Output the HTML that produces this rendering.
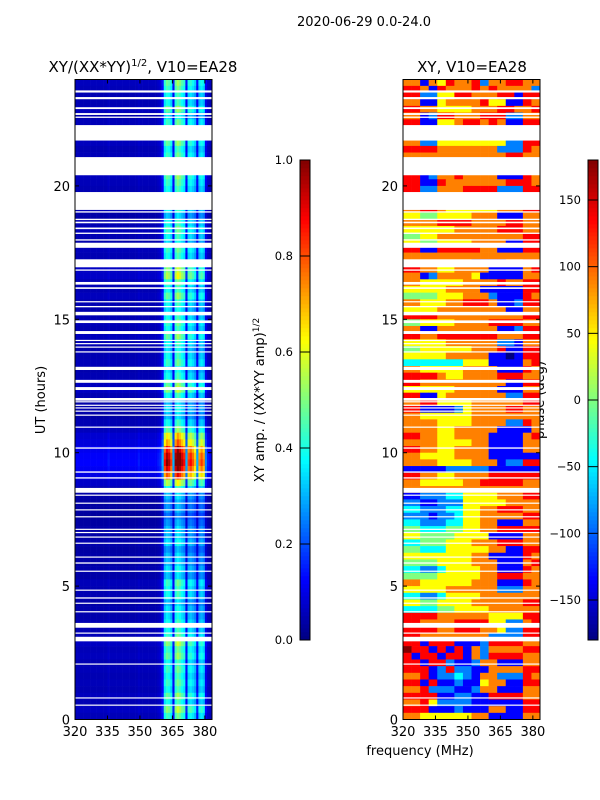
<!DOCTYPE html>
<html><head><meta charset="utf-8">
<style>
body{margin:0;background:#fff;}
svg{display:block;font-family:"DejaVu Sans","Liberation Sans",sans-serif;}
</style></head>
<body>
<svg id="fig" width="600" height="800" viewBox="0 0 600 800">
<text x="364" y="26" font-size="13" text-anchor="middle">2020-06-29 0.0-24.0</text>
<text x="143" y="72" font-size="15" text-anchor="middle">XY/(XX*YY)<tspan font-size="10" dy="-6">1/2</tspan><tspan dy="6">, V10=EA28</tspan></text>
<text x="472" y="72" font-size="15" text-anchor="middle">XY, V10=EA28</text>
<text transform="translate(45,400) rotate(-90)" font-size="13" text-anchor="middle">UT (hours)</text>
<text x="420" y="755" font-size="13" text-anchor="middle">frequency (MHz)</text>
<text transform="translate(264,400) rotate(-90)" font-size="13" text-anchor="middle">XY amp. / (XX*YY amp)<tspan font-size="9" dy="-5">1/2</tspan></text>
<text transform="translate(544,400) rotate(-90)" font-size="13" text-anchor="middle">phase (deg)</text>
<g id="left"></g>
<g id="right"></g>
<g id="cb"></g>
<g id="axes"></g>
</svg>
<script>
// ---- data ----
const freqProfile=[0.05,0.05,0.05,0.05,0.05,0.05,0.05,0.05,0.05,0.05,0.05,0.05,0.05,0.05,0.05,0.06,0.05,0.05,0.05,0.05,0.05,0.05,0.05,0.05,0.05,0.05,0.05,0.05,0.05,0.06,0.05,0.05,0.05,0.05,0.05,0.05,0.05,0.05,0.06,0.07,
0.12,0.35,0.4,0.38,0.33,0.12,0.4,0.45,0.42,0.38,0.35,0.12,0.33,0.35,0.32,0.28,0.12,0.3,0.33,0.3,0.1,0.06,0.05,0.05];
const rowGain=[1.2,1.1,1.0,1.0,1.2,0.9,1.1,1.0,1.0,1.2,1.0,1.1,1.0,1.0,1.2,1.1,1.0,1.0,1.0,1.0,0.8,1.0,1.1,1.0,
0.9,1.1,1.0,1.0,1.3,1.4,1.1,1.0,1.2,1.0,0.9,1.0,1.1,1.0,1.2,1.0,0.9,1.0,1.1,0.9,1.0,1.2,1.3,1.0,
0.8,0.9,0.8,1.0,1.2,1.6,1.8,2.2,2.4,2.5,2.3,2.0,1.4,1.0,0.8,0.7,0.7,0.6,0.7,0.8,0.8,0.9,0.7,0.8,
0.8,0.9,0.8,1.1,1.0,1.0,0.8,0.9,0.9,1.0,1.0,1.1,1.3,1.1,1.2,1.0,1.1,1.0,1.1,1.0,1.2,1.0,1.3,1.1];
const phaseRows=["6616576672667766","7761766676766662","7722557766677177","6611566667551176","7766555566677667","6612776667772266","7711556776761177","6666666666666666","6666666666666666","6622555555552277","7777666666622276","6666666666667766","6666666666666666","6666666666666666","7712667666611176","7711766666667776","7722666777722277","6666666666666666","6666666666666666","6677655555566677","5544555566611166","6666777766667766","5555556666677766","4455666666666677","5544555566661177","7711777776611177","6666666666666666","6666666611116677","7766556666111167","6612666651111166","6655555666676677","5555566661111177","4444555666211176","6655566777611277","5555666666661166","7777666666666677","4455556666777766","6611666666611277","7766777777766677","5555566666622166","4455555566671177","5555566666110177","3333333555111167","6655555666611176","7777655666677766","7766666666661177","5555556666611166","7711566666662277","6677555566666677","7711112566667766","6655555566666666","6666555566662276","6666556666611116","7766556666111167","6666555566111166","7766556666111166","6655556666111111","6666555566612277","1111122222111111","7766556666777777","6655555667777766","6666666666666666","1122233555566677","2211222555556666","3322233556677766","2221223556666677","3322233556611166","4433344556677777","5544445555111166","3344455566677766","4433355555661177","5555555566111176","4444555566611167","3322355556611176","4444555556677766","6655555566611176","5555566666622266","3322355556666666","5544555566666677","3333445555666666","7777666666555577","7766667777552267","7777667776652277","7766666666222277","7717771112777766","8771717162666677","7177177162777766","7717721126611166","7771272211666677","6671223216622276","7717112115661177","6672221126611166","7777112211777766","6675222211111177","7771112111661177","6655555566111166"];
const gaps=[[23.5,23.58],[23.25,23.33],[22.88,22.95],[22.66,22.73],[22.55,22.6],[21.7,22.28],[20.4,21.08],[19.1,19.77],[19.0,19.05],[18.72,18.77],[18.6,18.66],[18.38,18.44],[18.2,18.25],[17.95,18.0],[17.68,17.87],[16.95,17.25],[16.82,16.87],[16.3,16.4],[16.14,16.2],[15.64,15.68],[15.45,15.5],[15.15,15.28],[14.86,14.96],[14.45,14.56],[14.2,14.23],[14.07,14.11],[13.95,13.98],[13.76,13.8],[13.1,13.22],[12.62,12.73],[12.35,12.46],[11.95,12.05],[11.9,11.93],[11.78,11.8],[11.67,11.7],[11.55,11.58],[11.4,11.43],[10.94,10.98],[10.15,10.2],[9.25,9.3],[9.03,9.08],[8.5,8.68],[8.4,8.43],[8.1,8.13],[7.85,7.88],[7.58,7.62],[7.12,7.15],[7.0,7.03],[6.82,6.86],[6.6,6.63],[6.08,6.11],[5.84,5.89],[5.55,5.58],[4.84,4.87],[4.53,4.58],[4.35,4.38],[4.02,4.06],[3.44,3.62],[3.22,3.26],[2.93,3.1],[2.06,2.1],[0.79,0.83],[0.52,0.56]];
const yTicks=[0,5,10,15,20];
const xTicks=[320,335,350,365,380];
const ampTicks=["0.0","0.2","0.4","0.6","0.8","1.0"];
const phaseTicks=[-150,-100,-50,0,50,100,150];
// ---- scales ----
const NS="http://www.w3.org/2000/svg";
const yS=h=>719.5-h*(640.3/24);
const xL=f=>75+(f-320)*(137/63.3);
const xR=f=>403+(f-320)*(137/63.3);
function jet(v){v=Math.max(0,Math.min(1,v));
 const r=Math.max(0,Math.min(1,1.5-Math.abs(4*v-3))),g=Math.max(0,Math.min(1,1.5-Math.abs(4*v-2))),b=Math.max(0,Math.min(1,1.5-Math.abs(4*v-1)));
 return `rgb(${Math.round(r*255)},${Math.round(g*255)},${Math.round(b*255)})`;}
function mk(parent,tag,attrs){const e=document.createElementNS(NS,tag);for(const k in attrs)e.setAttribute(k,attrs[k]);parent.appendChild(e);return e;}
const L=document.getElementById('left'),R=document.getElementById('right'),CB=document.getElementById('cb'),AX=document.getElementById('axes');
const nRows=rowGain.length,dh=24/nRows;
// amplitude heatmap
for(let r=0;r<nRows;r++){const hTop=24-r*dh,hBot=hTop-dh;
 for(let f=0;f<freqProfile.length;f++){
  const x0=xL(320+f),x1=Math.min(xL(321+f),212);if(x1<=x0)continue;
  const c=mk(L,'rect',{x:x0,y:yS(hTop),width:x1-x0+0.3,height:yS(hBot)-yS(hTop)+0.3,fill:jet(freqProfile[f]*rowGain[r])});
  
  
 }}
// phase heatmap
for(let r=0;r<phaseRows.length;r++){const hTop=24-r*dh,hBot=hTop-dh,s=phaseRows[r],fw=63.3/s.length;
 for(let k=0;k<s.length;k++){
  const ph=-180+(+s[k])*45;
  const x0=xR(320+k*fw),x1=xR(320+(k+1)*fw);
  const c=mk(R,'rect',{x:x0,y:yS(hTop),width:x1-x0+0.3,height:yS(hBot)-yS(hTop)+0.3,fill:jet((ph+180)/360)});
  
  
 }}
// missing-data gaps
for(const g of gaps){for(const [x0,p] of [[75,L],[403,R]]){
 const e=mk(p,'rect',{x:x0,y:yS(g[1]),width:137,height:Math.max(1.2,yS(g[0])-yS(g[1])),fill:'#fff'});
 
 
}}
// axes frames and ticks
for(const [x0,xs,nm] of [[75,xL,'left'],[403,xR,'right']]){
 const fr=mk(AX,'rect',{x:x0,y:79.5,width:137,height:640,fill:'none',stroke:'#000','stroke-width':1});
 
 
 for(const t of yTicks){const y=yS(t);
  mk(AX,'line',{x1:x0,x2:x0+4,y1:y,y2:y,stroke:'#000'});mk(AX,'line',{x1:x0+137,x2:x0+133,y1:y,y2:y,stroke:'#000'});
  const tl=mk(AX,'text',{x:x0-5,y:y+5,'font-size':13,'text-anchor':'end'});tl.textContent=t;
  
  }
 for(const t of xTicks){const x=xs(t);
  mk(AX,'line',{x1:x,x2:x,y1:719.5,y2:715.5,stroke:'#000'});mk(AX,'line',{x1:x,x2:x,y1:79.5,y2:83.5,stroke:'#000'});
  const tl=mk(AX,'text',{x:x,y:736,'font-size':13,'text-anchor':'middle'});tl.textContent=t;
  
  }
}
// colorbars
function colorbar(x0,vmin,vmax,ticks,name){
 for(let i=0;i<120;i++){const v=i/120;
  mk(CB,'rect',{x:x0,y:640-(i+1)*4,width:10,height:4.3,fill:jet(v+1/240)});}
 const fr=mk(CB,'rect',{x:x0,y:160,width:10,height:480,fill:'none',stroke:'#000','stroke-width':1});
 
 
 for(const t of ticks){const v=+t,y=640-(v-vmin)/(vmax-vmin)*480;
  mk(CB,'line',{x1:x0,x2:x0+10,y1:y,y2:y,stroke:'#000'});
  const tl=mk(CB,'text',{x:x0-7,y:y+4,'font-size':11.5,'text-anchor':'end'});tl.textContent=(typeof t==='number'&&t<0)?'\u2212'+Math.abs(t):t;
  
  }
}
colorbar(300,0,1,ampTicks,'amp-colorbar');
colorbar(588,-180,180,phaseTicks,'phase-colorbar');
</script>
</body></html>
